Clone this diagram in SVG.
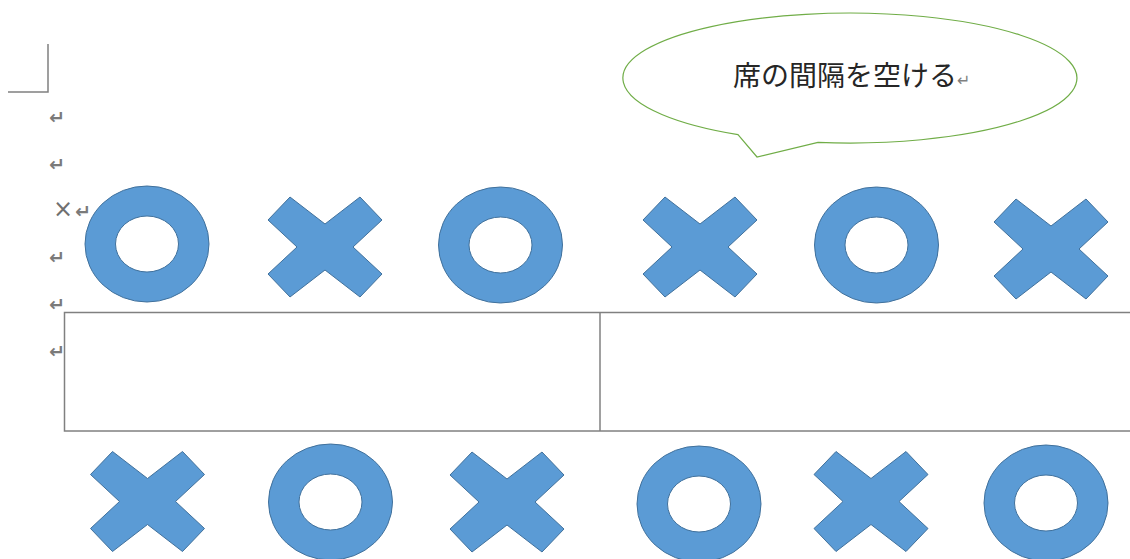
<svg xmlns="http://www.w3.org/2000/svg" xmlns:xlink="http://www.w3.org/1999/xlink" width="1130" height="559" viewBox="0 0 1130 559">
<style>
.shape{fill:#5b9bd5;stroke:#41719c;stroke-width:1;fill-rule:evenodd}
.mark{font-family:"DejaVu Sans",sans-serif;font-size:19px;font-weight:bold;fill:#7a7a7a}
.rule{fill:none;stroke:#808080;stroke-width:1.5}
.callout{fill:#ffffff;stroke:#70ad47;stroke-width:1.2}
.ctext{font-family:"Noto Sans CJK JP","Noto Sans CJK SC",sans-serif;font-size:28px;fill:#262626}
</style>
<defs>
<path id="xs" d="M -35,-50 L 0,-23 L 35,-50 L 57,-27 L 28,0 L 57,27 L 35,50 L 0,23 L -35,50 L -57,27 L -28,0 L -57,-27 Z"/>
<path id="os" d="M -62,0 A 62,58 0 1,0 62,0 A 62,58 0 1,0 -62,0 Z M -31.5,0 A 31.5,28 0 1,1 31.5,0 A 31.5,28 0 1,1 -31.5,0 Z"/>
</defs>
<rect width="1130" height="559" fill="#ffffff"/>
<g id="corner-mark">
<path class="rule" d="M 48,44 L 48,92 L 8,92" stroke-width="1.2" stroke="#999999"/>
</g>
<g id="paragraph-marks">
<text class="mark" x="49" y="124">↵</text>
<text class="mark" x="49" y="171">↵</text>
<text x="53" y="217" style="font-family:'DejaVu Sans',sans-serif;font-size:24px;fill:#707070">×</text>
<text class="mark" x="75" y="218">↵</text>
<text class="mark" x="49" y="264">↵</text>
<text class="mark" x="49" y="311">↵</text>
<text class="mark" x="49" y="358">↵</text>
</g>
<g id="table">
<rect class="rule" x="64.5" y="312.5" width="1080" height="118.5"/>
<line class="rule" x1="600" y1="312.5" x2="600" y2="431"/>
</g>
<g id="callout">
<path class="callout" d="M 738,134.6 L 757,157 L 818,142.4 A 227,65 0 1,0 738,134.6 Z"/>
<text class="ctext" x="733" y="86">席の間隔を空ける<tspan style="font-family:'DejaVu Sans',sans-serif;font-size:16px;fill:#808080">↵</tspan></text>
</g>
<g id="top-row">
<use id="top-o1" class="shape" xlink:href="#os" href="#os" transform="translate(147,244)"/>
<use id="top-x1" class="shape" xlink:href="#xs" href="#xs" transform="translate(325,247)"/>
<use id="top-o2" class="shape" xlink:href="#os" href="#os" transform="translate(500.5,245)"/>
<use id="top-x2" class="shape" xlink:href="#xs" href="#xs" transform="translate(700,247)"/>
<use id="top-o3" class="shape" xlink:href="#os" href="#os" transform="translate(876.5,245)"/>
<use id="top-x3" class="shape" xlink:href="#xs" href="#xs" transform="translate(1051,249)"/>
</g>
<g id="bottom-row">
<use id="bot-x1" class="shape" xlink:href="#xs" href="#xs" transform="translate(147.5,501.5)"/>
<use id="bot-o1" class="shape" xlink:href="#os" href="#os" transform="translate(330.5,502)"/>
<use id="bot-x2" class="shape" xlink:href="#xs" href="#xs" transform="translate(507,502)"/>
<use id="bot-o2" class="shape" xlink:href="#os" href="#os" transform="translate(699,504)"/>
<use id="bot-x3" class="shape" xlink:href="#xs" href="#xs" transform="translate(871,501.5)"/>
<use id="bot-o3" class="shape" xlink:href="#os" href="#os" transform="translate(1046,503)"/>
</g>
</svg>
